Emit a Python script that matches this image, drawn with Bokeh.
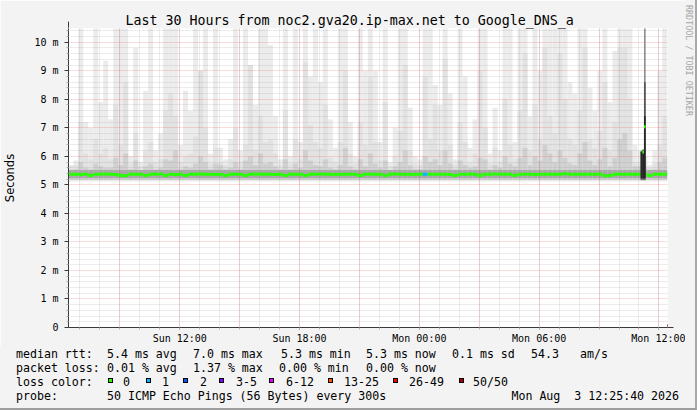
import html
from datetime import datetime, timedelta
from bokeh.plotting import figure
from bokeh.layouts import column, row
from bokeh.models import (FixedTicker, Grid, Arrow, NormalHead, Div,
                          ColumnDataSource, DatetimeTickFormatter, PrintfTickFormatter, Range1d)
from bokeh.embed import file_html
from bokeh.resources import INLINE

# ---------------- data ----------------
title_text = "Last 30 Hours from noc2.gva20.ip-max.net to Google_DNS_a"
watermark_text = "RRDTOOL / TOBI OETIKER"
end_time = datetime(2026, 8, 3, 12, 25, 40)
start_time = end_time - timedelta(hours=30)
first_bin = datetime(2026, 8, 2, 6, 25)
bin_minutes = 15

# smoke (ms), one value per 15-minute bin
max_ms = [5.70, 5.85, 10.6, 7.20, 7.00, 10.6, 7.90, 9.35, 7.30, 10.6,
          10.6, 10.6, 6.00, 9.80, 5.80, 8.30, 10.6, 6.20, 6.80, 10.6,
          10.6, 10.6, 6.40, 8.30, 7.60, 10.6, 9.00, 10.6, 6.10, 10.6,
          6.30, 5.90, 6.60, 10.6, 6.20, 10.6, 9.20, 7.80, 10.6, 10.6,
          9.90, 7.40, 5.90, 10.6, 6.00, 10.6, 6.50, 10.6, 8.80, 10.6,
          8.60, 10.6, 7.30, 6.30, 10.6, 10.6, 7.20, 6.00, 10.6, 9.00,
          10.6, 9.00, 6.50, 10.6, 5.80, 7.00, 10.6, 10.6, 7.70, 6.00,
          5.90, 10.6, 10.6, 8.50, 7.80, 10.6, 8.20, 5.90, 10.6, 8.80,
          6.30, 7.30, 10.6, 10.6, 6.10, 7.70, 6.20, 10.6, 10.6, 6.50,
          10.6, 10.6, 7.40, 10.6, 9.00, 10.6, 10.6, 10.6, 10.6, 10.6,
          8.60, 8.20, 10.6, 10.6, 8.40, 7.60, 9.00, 10.6, 7.90, 9.70,
          10.6, 10.6, 10.6, 6.40, 6.20, 6.00, 5.70, 6.20, 9.00, 10.6]
p2_ms = [5.65, 5.70, 7.20, 6.10, 5.90, 6.60, 6.10, 6.30, 5.90, 7.80,
         6.40, 8.60, 5.75, 6.80, 5.65, 6.20, 6.50, 5.80, 5.90, 7.60,
         8.20, 7.40, 5.80, 6.00, 6.10, 6.70, 9.00, 7.00, 5.75, 6.30,
         5.80, 5.70, 5.90, 7.00, 5.80, 6.40, 9.20, 6.20, 7.40, 6.50,
         6.60, 6.10, 5.70, 7.60, 5.75, 6.60, 5.90, 9.30, 7.10, 6.50,
         6.30, 7.80, 5.95, 5.80, 6.50, 9.00, 6.10, 5.75, 7.20, 6.40,
         8.80, 6.50, 5.85, 7.90, 5.65, 6.00, 6.90, 9.20, 6.20, 5.75,
         5.70, 8.80, 6.60, 7.80, 6.20, 9.40, 6.40, 5.70, 7.20, 6.50,
         5.80, 6.10, 9.00, 7.00, 5.75, 6.30, 5.80, 8.00, 6.40, 5.90,
         7.60, 9.60, 6.20, 7.80, 6.60, 9.80, 7.40, 6.80, 9.60, 8.00,
         6.60, 6.40, 7.60, 9.80, 6.60, 6.30, 6.90, 8.60, 6.20, 7.20,
         9.80, 9.80, 8.00, 5.80, 5.80, 5.75, 5.60, 5.75, 6.40, 7.40]
p3_ms = [5.50, 5.55, 5.80, 5.60, 5.55, 5.75, 5.65, 5.60, 5.60, 5.95,
         5.70, 6.10, 5.55, 5.85, 5.50, 5.65, 5.75, 5.55, 5.60, 5.90,
         5.85, 6.20, 5.55, 5.65, 5.60, 5.75, 6.00, 5.80, 5.55, 5.75,
         5.70, 5.55, 5.60, 5.80, 5.55, 5.85, 6.00, 5.70, 6.10, 5.75,
         5.80, 5.65, 5.55, 5.90, 5.55, 5.75, 5.60, 6.20, 5.85, 5.70,
         5.65, 5.90, 5.60, 5.55, 5.70, 6.30, 5.65, 5.55, 5.90, 5.65,
         6.10, 5.75, 5.60, 5.85, 5.50, 5.65, 5.80, 6.20, 5.70, 5.55,
         5.55, 6.00, 5.80, 5.90, 5.70, 6.20, 5.75, 5.55, 5.85, 5.70,
         5.60, 5.65, 5.95, 5.90, 5.55, 5.70, 5.60, 6.00, 5.75, 5.65,
         5.95, 6.30, 5.70, 6.00, 5.85, 6.40, 6.10, 5.80, 6.20, 5.95,
         5.75, 5.70, 6.10, 6.50, 5.85, 5.70, 5.90, 6.30, 5.65, 5.95,
         6.60, 6.80, 6.20, 5.65, 5.65, 5.60, 5.50, 5.55, 5.80, 5.95]
smoke_floor_ms = [5.12, 5.16, 5.19, 5.23]   # bottoms of the four smoke bands
core_top_ms = 5.52
median_ms = [5.37, 5.37, 5.36, 5.37, 5.33, 5.37, 5.37, 5.38, 5.37, 5.36,
             5.33, 5.32, 5.37, 5.37, 5.37, 5.33, 5.37, 5.37, 5.38, 5.33,
             5.37, 5.36, 5.37, 5.33, 5.37, 5.37, 5.38, 5.37, 5.37, 5.36,
             5.37, 5.33, 5.37, 5.37, 5.37, 5.33, 5.37, 5.38, 5.37, 5.37,
             5.37, 5.36, 5.37, 5.33, 5.37, 5.37, 5.37, 5.33, 5.37, 5.37,
             5.38, 5.37, 5.37, 5.36, 5.37, 5.37, 5.37, 5.37, 5.33, 5.37,
             5.37, 5.37, 5.37, 5.33, 5.37, 5.38, 5.37, 5.37, 5.36, 5.37,
             5.37, 5.37, 5.37, 5.37, 5.37, 5.37, 5.36, 5.33, 5.37, 5.37,
             5.37, 5.37, 5.33, 5.37, 5.37, 5.38, 5.37, 5.37, 5.37, 5.33,
             5.37, 5.37, 5.37, 5.36, 5.37, 5.37, 5.37, 5.37, 5.37, 5.39,
             5.37, 5.37, 5.37, 5.37, 5.37, 5.37, 5.37, 5.32, 5.33, 5.37,
             5.37, 5.37, 5.37, 5.37, 5.37, 5.37, 5.33, 5.37, 5.37, 5.37]
loss_events = {71: 1}   # bin index -> lost pings (all other bins: 0)

# the spike at Mon ~11:10 (5-minute steps)
spike_start = [datetime(2026, 8, 3, 11, 5), datetime(2026, 8, 3, 11, 10), datetime(2026, 8, 3, 11, 15)]
spike_max = [6.20, 6.25, 10.6]
spike_p2 = [6.18, 6.22, 8.60]
spike_p3 = [6.15, 6.20, 7.40]
spike_med_start = [datetime(2026, 8, 3, 11, 10), datetime(2026, 8, 3, 11, 15)]
spike_median = [6.15, 7.04]

loss_labels = ["0", "1", "2", "3-5", "6-12", "13-25", "26-49", "50/50"]
loss_colors = ["#26ff00", "#00b8ff", "#0059ff", "#7e00ff", "#ee00ff", "#ff5500", "#ff0000", "#a10000"]
loss_bins = [0, 1, 2, 3, 6, 13, 26, 50]

rtt_values = [5.4, 7.0, 5.3, 5.3, 0.1]
rtt_names = ["avg", "max", "min", "now", "sd"]
am_per_s = 54.3
loss_values = [0.01, 1.37, 0.00, 0.00]
loss_names = ["avg", "max", "min", "now"]
probe_text = "50 ICMP Echo Pings (56 Bytes) every 300s"

y_ticks = list(range(0, 11))

# ---------------- helpers ----------------
EPOCH = datetime(1970, 1, 1)
def ms(t):
    return (t - EPOCH).total_seconds() * 1000.0

STEP = bin_minutes * 60 * 1000.0
HOUR = 3600 * 1000.0
n = len(max_ms)
lefts = [ms(first_bin) + i * STEP for i in range(n)]
rights = [l + STEP for l in lefts]

def loss_color(lost):
    c = loss_colors[0]
    for b, col in zip(loss_bins, loss_colors):
        if lost >= b:
            c = col
    return c

med_colors = [loss_color(loss_events.get(i, 0)) for i in range(n)]

FONT = "DejaVu Sans Mono"
BACK = "#f3f3f3"
EDGE = "#a8a8a8"
MAIN_W = 685
SIDE_W = 697 - MAIN_W
MAIN_H = 346
LEG_H = 410 - MAIN_H

p = figure(width=MAIN_W, height=MAIN_H, output_backend="svg", toolbar_location=None,
           x_axis_type="datetime", title=title_text,
           min_border_left=67, min_border_right=MAIN_W - 667, min_border_top=28,
           min_border_bottom=MAIN_H - 328)
p.x_range = Range1d(ms(start_time), ms(end_time))
p.y_range = Range1d(0, 10.48)
p.background_fill_color = "white"
p.border_fill_color = BACK
p.outline_line_color = None

p.title.text_font = FONT
p.title.text_font_size = "13.3px"
p.title.text_font_style = "normal"
p.title.text_color = "black"
p.title.align = "left"
p.title.offset = 57
p.title.standoff = 2

# smoke bands
band_tops = [max_ms, p2_ms, p3_ms, [core_top_ms] * n]
band_cols = ["#ececec", "#e2e2e2", "#d0d0d0", "#a8a8a8"]
for tops, floor, col in zip(band_tops, smoke_floor_ms, band_cols):
    src = ColumnDataSource(dict(l=lefts, r=rights, b=[floor] * n, t=tops))
    p.quad(left="l", right="r", bottom="b", top="t", source=src,
           fill_color=col, line_color=None, level="image")

# grids
p.xgrid.visible = False
p.ygrid.visible = False
hour0 = datetime(2026, 8, 2, 7, 0)
hour_ticks = [ms(hour0 + timedelta(hours=h)) for h in range(0, 30)]
three_h_ticks = [ms(datetime(2026, 8, 2, 9, 0) + timedelta(hours=3 * h)) for h in range(0, 10)]
six_h_ticks = [ms(datetime(2026, 8, 2, 12, 0) + timedelta(hours=6 * h)) for h in range(0, 5)]
minor_y = [i * 0.2 for i in range(0, 53) if i % 5 != 0]

for dim, ticks, col, alpha in [(0, hour_ticks, "#8f8f8f", 0.35), (1, minor_y, "#8f8f8f", 0.35),
                               (0, three_h_ticks, "#e65050", 0.4), (1, y_ticks, "#e65050", 0.4)]:
    g = Grid(dimension=dim, ticker=FixedTicker(ticks=ticks), grid_line_color=col,
             grid_line_alpha=alpha, grid_line_dash="1 1", grid_line_width=1)
    p.add_layout(g)

# median line coloured by loss
msrc = ColumnDataSource(dict(l=lefts, r=rights, m=median_ms, c=med_colors))
p.segment(x0="l", x1="r", y0="m", y1="m", source=msrc, line_color="c", line_width=3)

# spike
sl = [ms(t) for t in spike_start]
sr = [x + 300000.0 for x in sl]
for tops, floor, col in zip([spike_max, spike_p2, spike_p3], smoke_floor_ms[1:], ["#8e8e8e", "#555555", "#262626"]):
    src = ColumnDataSource(dict(l=sl, r=sr, b=[floor] * len(sl), t=tops))
    p.quad(left="l", right="r", bottom="b", top="t", source=src, fill_color=col, line_color=None)
sml = [ms(t) for t in spike_med_start]
smr = [x + 300000.0 for x in sml]
p.segment(x0=sml, x1=smr, y0=spike_median, y1=spike_median, line_color=loss_colors[0], line_width=3)

# axes
AX = "#3a3a3a"
p.xaxis.ticker = FixedTicker(ticks=six_h_ticks, minor_ticks=hour_ticks)
fmt = "%a %H:%M"
p.xaxis.formatter = DatetimeTickFormatter(microseconds=fmt, milliseconds=fmt, seconds=fmt, minsec=fmt,
                                          minutes=fmt, hourmin=fmt, hours=fmt, days=fmt, months=fmt, years=fmt)
p.yaxis.ticker = FixedTicker(ticks=y_ticks, minor_ticks=minor_y)
p.yaxis.formatter = PrintfTickFormatter(format="%d m")
p.yaxis.major_label_overrides = {0: "0"}
for ax in (p.xaxis[0], p.yaxis[0]):
    ax.axis_line_color = AX
    ax.major_tick_line_color = AX
    ax.minor_tick_line_color = "#b0b0b0"
    ax.major_tick_in = 0
    ax.minor_tick_in = 0
    ax.major_label_text_font = FONT
    ax.major_label_text_font_size = "10px"
    ax.major_label_text_color = "black"
p.xaxis.major_tick_out = 2
p.xaxis.minor_tick_out = 2
p.xaxis.major_label_standoff = 3
p.yaxis.major_tick_out = 4
p.yaxis.minor_tick_out = 2
p.yaxis.major_label_standoff = 6
p.yaxis.axis_label = "Seconds"
p.yaxis.axis_label_text_font = "DejaVu Sans"
p.yaxis.axis_label_text_font_size = "11.5px"
p.yaxis.axis_label_text_font_style = "normal"
p.yaxis.axis_label_text_color = "black"
p.yaxis.axis_label_standoff = 14

ARROW = "#7f1f1f"
p.add_layout(Arrow(end=NormalHead(size=6, fill_color=ARROW, line_color=ARROW),
                   x_start=ms(end_time), y_start=0, x_end=ms(end_time) + 0.3 * HOUR, y_end=0,
                   line_color=AX, line_width=1))
p.add_layout(Arrow(end=NormalHead(size=6, fill_color=ARROW, line_color=ARROW),
                   x_start=ms(start_time), y_start=10.48, x_end=ms(start_time), y_end=10.72,
                   line_color=AX, line_width=1))

# ---------------- right strip with the vertical watermark ----------------
side_html = ('<div style="position:relative;width:%dpx;height:%dpx;overflow:hidden;background:%s;'
             'box-sizing:border-box;border-right:2px solid %s;">'
             '<div style="position:absolute;left:-1px;top:5px;writing-mode:vertical-rl;'
             "text-orientation:sideways;font-family:'DejaVu Sans Mono',monospace;font-size:8.4px;"
             'line-height:10px;color:#a6a6a6;white-space:pre;">%s</div></div>'
             % (SIDE_W, MAIN_H, BACK, EDGE, html.escape(watermark_text)))
side = Div(text=side_html, width=SIDE_W, height=MAIN_H, margin=0, styles={"background-color": BACK})

# ---------------- legend strip (HTML text) ----------------
BASE_OFF = 11.0   # baseline position inside a 14px line box at 11.6px
parts = []
def put(x, ybase, s, right=False):
    pos = ("right:%dpx;" % (697 - x)) if right else ("left:%dpx;" % x)
    parts.append('<span style="position:absolute;%stop:%.1fpx;white-space:pre;">%s</span>'
                 % (pos, ybase - BASE_OFF, html.escape(s)))

row_y = [357.5 - MAIN_H, 371.5 - MAIN_H, 385.5 - MAIN_H, 399.5 - MAIN_H]
put(16, row_y[0], "median rtt:")
for xv, v, nm in zip([107, 193, 281, 366, 452], rtt_values, rtt_names):
    put(xv, row_y[0], "%.1f ms %s" % (v, nm))
put(531, row_y[0], "%.1f" % am_per_s)
put(580, row_y[0], "am/s")
put(16, row_y[1], "packet loss:")
for xv, v, nm in zip([107, 193, 279, 366], loss_values, loss_names):
    put(xv, row_y[1], "%.2f %% %s" % (v, nm))
put(16, row_y[2], "loss color:")
box_x = [108, 146, 183, 219, 269, 328, 393, 459]
lab_x = [123, 162, 200, 236, 286, 344, 409, 473]
for bx, lx, lab, col in zip(box_x, lab_x, loss_labels, loss_colors):
    parts.append('<span style="position:absolute;left:%dpx;top:%dpx;width:5px;height:5px;'
                 'border:1px solid #000;background:%s;"></span>' % (bx, 378 - MAIN_H, col))
    put(lx, row_y[2], lab)
put(16, row_y[3], "probe:")
put(107, row_y[3], probe_text)
date_str = end_time.strftime("%a %b ") + "%2d" % end_time.day + end_time.strftime(" %H:%M:%S %Y")
put(681, row_y[3], date_str, right=True)

legend_html = ('<div style="position:relative;width:697px;height:%dpx;overflow:hidden;background:%s;'
               'box-sizing:border-box;border-right:2px solid %s;border-bottom:2px solid #9e9e9e;'
               "font-family:'DejaVu Sans Mono',monospace;font-size:11.6px;line-height:14px;color:#000;\">%s</div>"
               % (LEG_H, BACK, EDGE, "".join(parts)))
lg = Div(text=legend_html, width=697, height=LEG_H, margin=0, styles={"background-color": BACK})

layout = column(row(p, side, spacing=0), lg, spacing=0)
open("out.html", "w").write(file_html(layout, INLINE))
